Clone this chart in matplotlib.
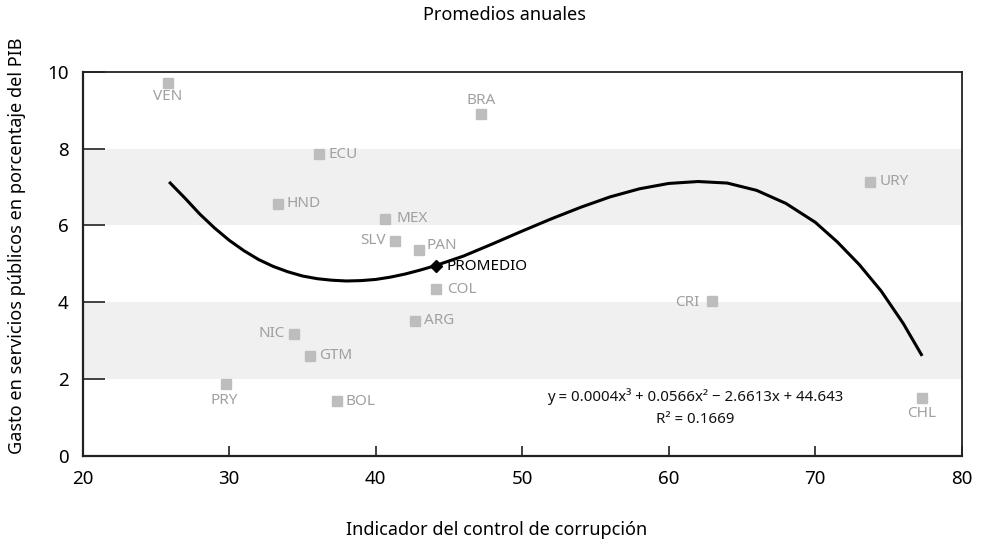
import matplotlib
matplotlib.use("Agg")
import matplotlib.pyplot as plt

plt.rcParams['font.family'] = ['Noto Sans', 'DejaVu Sans']

# Country data
countries = ["VEN", "BRA", "ECU", "HND", "MEX", "SLV", "PAN", "COL", "ARG",
             "NIC", "GTM", "PRY", "BOL", "CRI", "CHL", "URY"]
corruption = [25.82, 47.17, 36.13, 33.31, 40.63, 41.32, 42.93, 44.09, 42.66,
              34.40, 35.49, 29.78, 37.36, 62.94, 77.29, 73.74]
spending = [9.71, 8.90, 7.85, 6.56, 6.17, 5.60, 5.36, 4.34, 3.51,
            3.18, 2.60, 1.88, 1.42, 4.03, 1.51, 7.13]

# Average point
avg_label = "PROMEDIO"
avg_x = 44.09
avg_y = 4.93

# Trend line
trend_x = [25.9, 27, 28, 29, 30, 31, 32, 33, 34, 35, 36, 37, 38, 39, 40, 41, 42,
           43, 44, 46, 48, 50, 52, 54, 56, 58, 60, 62, 64, 66, 68, 70, 71.5, 73,
           74.5, 76, 77.3]
trend_y = [7.13, 6.70, 6.29, 5.93, 5.61, 5.34, 5.11, 4.93, 4.79, 4.68, 4.61,
           4.57, 4.55, 4.56, 4.59, 4.65, 4.73, 4.83, 4.94, 5.20, 5.52, 5.85,
           6.17, 6.47, 6.74, 6.95, 7.09, 7.14, 7.10, 6.91, 6.57, 6.08, 5.57,
           4.98, 4.29, 3.45, 2.60]

x_ticks = [20, 30, 40, 50, 60, 70, 80]
y_ticks = [0, 2, 4, 6, 8, 10]
bands = [(2, 4), (6, 8)]

equation = "y = 0.0004x³ + 0.0566x² − 2.6613x + 44.643"
r2 = "R² = 0.1669"

# label offsets in points (dx, dy, ha)
offsets = {
    "VEN": (0, -10, "center"), "BRA": (0, 10, "center"), "ECU": (7, 0, "left"),
    "HND": (6.5, 0, "left"), "MEX": (8, 0, "left"), "SLV": (-6.5, 0, "right"),
    "PAN": (6, 3, "left"), "COL": (8.5, 0, "left"), "ARG": (6.5, 0, "left"),
    "NIC": (-6.5, 0, "right"), "GTM": (6.5, 0, "left"), "PRY": (-1, -12, "center"),
    "BOL": (6, 0, "left"), "CRI": (-9, -1, "right"), "CHL": (0, -11, "center"),
    "URY": (7, 0, "left"),
}

fig = plt.figure(figsize=(9.89, 5.44), dpi=100)
ax = fig.add_axes([0.0836, 0.1623, 0.8888, 0.7059])
ax.set_xlim(20, 80)
ax.set_ylim(0, 10)

for lo, hi in bands:
    ax.axhspan(lo, hi, color="#f0f0f0", zorder=0, lw=0)

grey_pt = "#bdbdbd"
grey_txt = "#a0a0a0"
ax.plot(corruption, spending, linestyle="none", marker="s", markersize=7,
        color=grey_pt, zorder=3)
for c, x, y in zip(countries, corruption, spending):
    dx, dy, ha = offsets[c]
    ax.annotate(c, (x, y), xytext=(dx, dy), textcoords="offset points",
                ha=ha, va="center", color=grey_txt, fontsize=11, zorder=4)

ax.plot(trend_x, trend_y, color="black", lw=2.2, zorder=4,
        solid_joinstyle="round", solid_capstyle="butt")
ax.plot([avg_x], [avg_y], marker="D", markersize=6.5, color="black",
        linestyle="none", zorder=5)
ax.annotate(avg_label, (avg_x, avg_y), xytext=(7.5, 0), textcoords="offset points",
            ha="left", va="center", color="black", fontsize=11, zorder=5)

ax.text(61.8, 1.55, equation, ha="center", va="center", fontsize=10.8, color="#111111")
ax.text(61.8, 0.93, r2, ha="center", va="center", fontsize=10.8, color="#111111")

ax.set_xticks(x_ticks)
ax.set_yticks(y_ticks)
ax.set_xticklabels([str(v) for v in x_ticks], fontsize=13.5)
ax.set_yticklabels([str(v) for v in y_ticks], fontsize=13.5)
ax.tick_params(axis="y", direction="in", length=16, width=1.3, color="#333333", pad=10)
ax.tick_params(axis="x", direction="in", length=7, width=1.3, color="#333333", pad=10)
for s in ax.spines.values():
    s.set_color("#222222")
    s.set_linewidth(1.3)
ax.spines["left"].set_linewidth(1.6)
ax.spines["bottom"].set_linewidth(1.6)

fig.text(505 / 989, 1 - 15 / 544, "Promedios anuales", ha="center", va="center", fontsize=13)
fig.text(497 / 989, 1 - 530 / 544, "Indicador del control de corrupción",
         ha="center", va="center", fontsize=13)
fig.text(17 / 989, 1 - 246 / 544, "Gasto en servicios públicos en porcentaje del PIB",
         ha="center", va="center", rotation=90, fontsize=13)

fig.savefig("out.png", dpi=100)
